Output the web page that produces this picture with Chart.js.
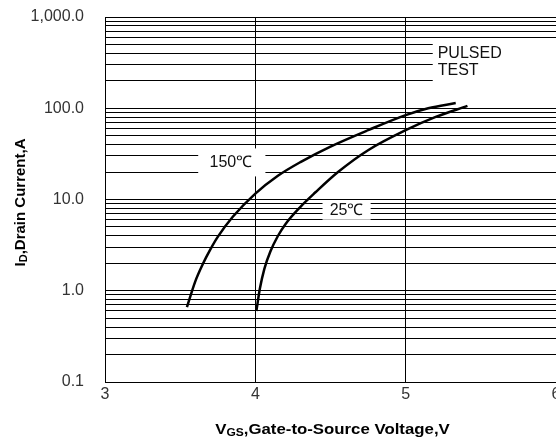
<!DOCTYPE html>
<html>
<head>
<meta charset="utf-8">
<script src="https://cdn.jsdelivr.net/npm/chart.js@4"></script>
<style>
  html, body { margin: 0; padding: 0; background: #fff; }
  #wrap { width: 556px; height: 441px; }
</style>
</head>
<body>
<div id="wrap"><canvas id="chart" width="556" height="441"></canvas></div>
<script>
// curve readings (Vgs, Id)
const vgs150 = [3.545, 3.6, 3.65, 3.7, 3.75, 3.85, 4.0, 4.15, 4.3, 4.5, 4.75, 5.0, 5.15, 5.333];
const id150 = [0.66, 1.26, 1.95, 2.82, 3.89, 6.46, 11.6, 18.2, 25.7, 38.0, 57.5, 84.1, 100, 114];
const vgs25 = [4.007, 4.03, 4.06, 4.1, 4.15, 4.2, 4.3, 4.4, 4.55, 4.75, 5.0, 5.2, 5.411];
const id25 = [0.6, 1.05, 1.74, 2.69, 3.98, 5.37, 8.32, 12.0, 20.0, 34.7, 57.5, 80.4, 106];

const xTicks = [3, 4, 5, 6];
const xTickLabels = ["3", "4", "5", "6"];
const yDecades = [0.1, 1, 10, 100, 1000];
const yTickLabels = ["0.1", "1.0", "10.0", "100.0", "1,000.0"];

// log grid: 1..9 per decade
const yGrid = [];
yDecades.forEach((d, i) => {
  if (i === yDecades.length - 1) { yGrid.push(d); return; }
  for (let k = 1; k <= 9; k++) yGrid.push(d * k);
});

const toPoints = (xs, ys) => xs.map((x, i) => ({ x: x, y: ys[i] }));

// boxed labels drawn over the grid (data coords)
const notes = [
  { box: [3.62, 4.067, 36.3, 17.9], lines: ["150\u2103"], at: [3.837, 25.2], align: "center" },
  { box: [4.447, 4.767, 9.5, 6.0], lines: ["25\u2103"], at: [4.607, 7.57], align: "center" },
  { box: [5.18, 6.05, 531, 105], lines: ["PULSED", "TEST"], at: [5.213, 397], align: "left", step: 16.5 }
];

const FONT = "'Liberation Sans', Arial, sans-serif";

const notesPlugin = {
  id: "notes",
  beforeDatasetsDraw(chart) {
    const { ctx, scales: { x, y } } = chart;
    ctx.save();
    notes.forEach(n => {
      const x0 = x.getPixelForValue(n.box[0]), x1 = x.getPixelForValue(n.box[1]);
      const y0 = y.getPixelForValue(n.box[2]), y1 = y.getPixelForValue(n.box[3]);
      ctx.fillStyle = "#fff";
      ctx.fillRect(x0, y0, x1 - x0, y1 - y0);
      ctx.fillStyle = "#111";
      ctx.font = "16px " + FONT;
      ctx.textAlign = n.align;
      ctx.textBaseline = "middle";
      const px = x.getPixelForValue(n.at[0]);
      const py = y.getPixelForValue(n.at[1]);
      n.lines.forEach((t, i) => ctx.fillText(t, px, py + i * (n.step || 0)));
    });
    ctx.restore();
  }
};

// axis titles with subscripts
const titlesPlugin = {
  id: "titles",
  afterDraw(chart) {
    const { ctx, chartArea } = chart;
    const parts = (main, sub, rest, size) => [
      { t: main, f: "bold " + size + "px " + FONT, dy: 0 },
      { t: sub, f: "bold " + Math.round(size * 0.7) + "px " + FONT, dy: size * 0.2 },
      { t: rest, f: "bold " + size + "px " + FONT, dy: 0 }
    ];
    const drawParts = (ps, cx, cy, sx) => {
      let w = 0;
      ps.forEach(p => { ctx.font = p.f; p.w = ctx.measureText(p.t).width; w += p.w; });
      ctx.save();
      ctx.translate(cx, cy);
      ctx.scale(sx, 1);
      let xx = -w / 2;
      ctx.fillStyle = "#000";
      ctx.textBaseline = "middle";
      ctx.textAlign = "left";
      ps.forEach(p => { ctx.font = p.f; ctx.fillText(p.t, xx, p.dy); xx += p.w; });
      ctx.restore();
      return w;
    };
    // x title
    const cx = (chartArea.left + chartArea.right) / 2 + 2;
    ctx.save();
    drawParts(parts("V", "GS", ",Gate-to-Source Voltage,V", 14), cx, 430, 1.2);
    ctx.restore();
    // y title
    ctx.save();
    ctx.translate(21, (chartArea.top + chartArea.bottom) / 2 + 3);
    ctx.rotate(-Math.PI / 2);
    drawParts(parts("I", "D", ",Drain Current,A", 15), 0, 0, 1);
    ctx.restore();
  }
};

const lineStyle = {
  borderColor: "#000",
  borderWidth: 2.5,
  pointRadius: 0,
  showLine: true,
  fill: false,
  cubicInterpolationMode: "monotone"
};

new Chart(document.getElementById("chart"), {
  type: "scatter",
  data: {
    datasets: [
      Object.assign({ label: "150\u2103", data: toPoints(vgs150, id150) }, lineStyle),
      Object.assign({ label: "25\u2103", data: toPoints(vgs25, id25) }, lineStyle)
    ]
  },
  options: {
    responsive: false,
    animation: false,
    layout: { padding: { top: 17, right: 0, left: 0, bottom: 0 } },
    plugins: { legend: { display: false }, tooltip: { enabled: false } },
    scales: {
      x: {
        type: "linear",
        min: 3,
        max: 6,
        afterBuildTicks: s => { s.ticks = xTicks.map(v => ({ value: v })); },
        afterFit: s => { s.height = 59; s.paddingLeft = 0; s.paddingRight = 0; },
        ticks: {
          padding: 3,
          color: "#333",
          font: { family: FONT, size: 16 },
          maxRotation: 0,
          callback: v => xTickLabels[xTicks.indexOf(v)]
        },
        grid: { color: "#000", lineWidth: 1, drawTicks: false },
        border: { color: "#000", width: 1 }
      },
      y: {
        type: "logarithmic",
        min: 0.1,
        max: 1000,
        afterBuildTicks: s => { s.ticks = yGrid.map(v => ({ value: v })); },
        afterFit: s => { s.width = 105; s.paddingTop = 0; s.paddingBottom = 0; },
        ticks: {
          autoSkip: false,
          padding: 21,
          color: "#333",
          font: { family: FONT, size: 16 },
          callback: v => {
            const i = yDecades.findIndex(d => Math.abs(Math.log10(v) - Math.log10(d)) < 1e-6);
            return i >= 0 ? yTickLabels[i] : "";
          }
        },
        grid: { color: "#000", lineWidth: 1, drawTicks: false },
        border: { color: "#000", width: 1 }
      }
    }
  },
  plugins: [notesPlugin, titlesPlugin]
});
</script>
</body>
</html>
